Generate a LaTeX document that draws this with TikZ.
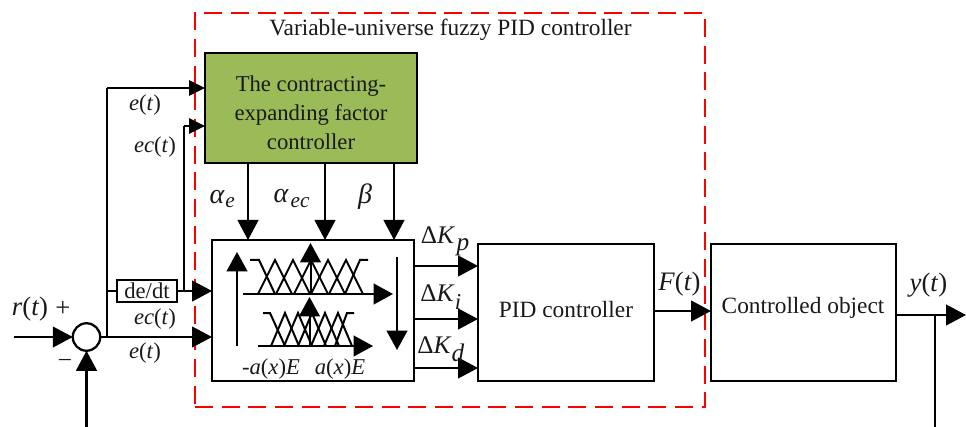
\documentclass[tikz,border=0pt]{standalone}
\usepackage{fontspec}
\setmainfont{Liberation Serif}
\usetikzlibrary{arrows.meta}
\definecolor{grn}{HTML}{9BBB59}
\tikzset{
  x=0.75pt,y=-0.75pt,
  blk/.style={draw=black,line width=1.7pt,inner sep=0pt,outer sep=0pt},
  wire/.style={line width=1.7pt,draw=black},
  arr/.style={wire,-{Triangle[length=15pt,width=15.5pt]}},
  sarr/.style={wire,-{Triangle[length=12pt,width=11.5pt]}},
  inarr/.style={line width=1.5pt,-{Triangle[length=14.5pt,width=15.5pt]}},
  mf/.style={line width=1.5pt,draw=black},
  lab/.style={font=\fontsize{17.5}{19}\selectfont,inner sep=0pt,text=black!90},
  mlab/.style={font=\fontsize{17}{18}\selectfont\itshape,inner sep=0pt,text=black!90},
  glab/.style={font=\fontsize{19}{20}\selectfont\itshape,inner sep=0pt,text=black!90},
  big/.style={font=\fontsize{20}{21}\selectfont\itshape},
  grk/.style={font=\fontsize{21}{22}\selectfont\itshape},
}
\newcommand{\boxat}[6][]{\node[blk,anchor=north west,minimum width=#4*0.75pt,minimum height=#5*0.75pt,#1] (#6) at (#2,#3) {};}
\begin{document}
\begin{tikzpicture}
\useasboundingbox (0,0) rectangle (966,427);
% boxes
\node[anchor=north west,inner sep=0pt,outer sep=0pt,minimum width=510*0.75pt,minimum height=394*0.75pt,draw=red,line width=1.7pt,dash pattern=on 13.5pt off 6.5pt] (frame) at (195,13) {};
\boxat[fill=grn]{205}{53}{212}{110}{green}
\boxat{212}{240}{202}{141}{fuzzy}
\boxat{478}{244}{176}{137}{pid}
\boxat{711}{244}{185}{137}{plant}
\node[blk,anchor=north west,minimum width=60*0.75pt,minimum height=22*0.75pt] (dedt) at (117,280) {};
\node[lab,font=\fontsize{17}{18}\selectfont] (dedttxt) at (147,291) {de/dt};
\node[blk,circle,minimum size=27.5*0.75pt] (sum) at (86.5,337) {};
% coordinates
\coordinate (rin) at (14,337);
\coordinate (fbk) at (86.5,427);
\coordinate (j1) at (107,337);
\coordinate (j2) at (107,88);
\coordinate (j3) at (107,291);
\coordinate (g1) at (205,88);
\coordinate (c1) at (184,291);
\coordinate (c2) at (184,126);
\coordinate (g2) at (205,126);
\coordinate (fz1) at (212,291);
\coordinate (fz2) at (212,337);
\coordinate (o1) at (966,315);
\coordinate (o0) at (896,315);
\coordinate (b1) at (935,315);
\coordinate (b2) at (935,427);
% connectors
\draw[arr] (rin) -- (sum.west);
\draw[arr] (fbk) -- (sum.south);
\draw[wire] (sum.east) -- (j1);
\draw[arr] (j1) -- (fz2);
\draw[wire] (j1) -- (j2);
\draw[sarr] (j2) -- (g1);
\draw[wire] (j3) -- (dedt.west);
\draw[arr] (dedt.east) -- (fz1);
\draw[wire] (c1) -- (c2);
\draw[sarr] (c2) -- (g2);
\foreach \xx/\nm in {248/a,325/b,394/c}{
  \coordinate (u\nm) at (\xx,163);
  \coordinate (d\nm) at (\xx,240);
  \draw[arr] (u\nm) -- (d\nm);
}
\foreach \yy/\nm in {266/p,319/i,368/d}{
  \coordinate (l\nm) at (414,\yy);
  \coordinate (r\nm) at (478,\yy);
  \draw[arr] (l\nm) -- (r\nm);
}
\coordinate (fa) at (654,311);
\coordinate (fb) at (711,311);
\draw[arr] (fa) -- (fb);
\draw[arr] (o0) -- (o1);
\draw[wire] (b1) -- (b2);
% fuzzy internals
\draw[inarr] (237,346) -- (237,252);
\draw[inarr] (243,294) -- (393,294);
\draw[inarr] (258,346) -- (373,346);
\draw[inarr] (397,257) -- (397,350);
\draw[inarr] (310.5,294) -- (310.5,243);
\draw[inarr] (309.5,346) -- (309.5,297);
% upper membership functions
\draw[mf] (250,260) -- (259,260) -- (275,294);
\draw[mf] (368,260) -- (360,260) -- (345,294);
\foreach \c in {275,293,311,328,346}{
  \draw[mf] (\c-17,294) -- (\c,260) -- (\c+17,294);
}
% lower membership functions
\draw[mf] (263,313) -- (270,313) -- (285,346);
\draw[mf] (354,313) -- (347,313) -- (335,346);
\foreach \c in {285,298,312,325,338}{
  \draw[mf] (\c-14,346) -- (\c,313) -- (\c+14,346);
}
% labels
\node[lab] (title) at (450.5,30) {Variable-universe fuzzy PID controller};
\node[lab,align=center,font=\fontsize{17}{21.75}\selectfont] (gt) at (311,113) {The contracting-\\expanding factor\\controller};
\node[lab] (pidt) at (566,310) {PID controller};
\node[lab] (plantt) at (803,308) {Controlled object};
\node[mlab] at (145,105) {e\textup{(}t\textup{)}};
\node[mlab] at (155,147) {ec\textup{(}t\textup{)}};
\node[mlab] at (155,319) {ec\textup{(}t\textup{)}};
\node[mlab] at (145,353) {e\textup{(}t\textup{)}};
\node[glab,big] at (30,309) {r\textup{(}t\textup{)}};
\node[lab,font=\fontsize{20}{21}\selectfont] at (63,309) {+};
\node[lab] at (65,362) {–};
\node[glab,grk] at (217,197) {α};
\node[mlab,font=\fontsize{16}{17}\selectfont\itshape] at (230,203) {e};
\node[glab,grk] at (281,196) {α};
\node[mlab,font=\fontsize{16}{17}\selectfont\itshape] at (300,203) {ec};
\node[glab,grk] at (365,197) {β};
\node[glab] at (437.5,235) {\textup{Δ}K};
\node[glab] at (463,247) {p};
\node[glab] at (437,293) {\textup{Δ}K};
\node[mlab] at (458,302) {i};
\node[glab] at (434,345) {\textup{Δ}K};
\node[glab] at (458,353) {d};
\node[mlab] at (271,369) {-a\textup{(}x\textup{)}E};
\node[mlab] at (340,369) {a\textup{(}x\textup{)}E};
\node[glab,big] at (679.5,284) {F\textup{(}t\textup{)}};
\node[glab,big] at (928.5,285) {y\textup{(}t\textup{)}};
\end{tikzpicture}
\end{document}
